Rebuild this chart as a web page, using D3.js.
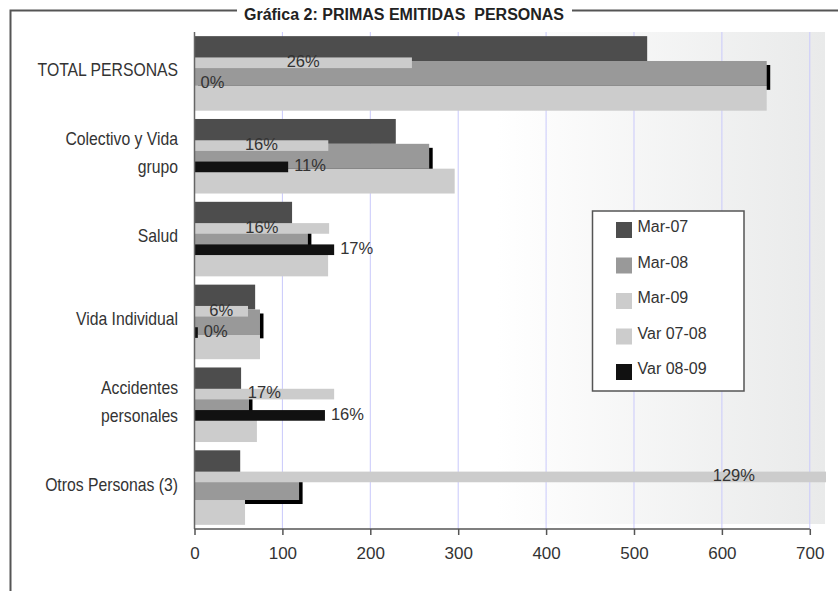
<!DOCTYPE html>
<html>
<head>
<meta charset="utf-8">
<script src="https://cdnjs.cloudflare.com/ajax/libs/d3/7.8.5/d3.min.js"></script>
<style>
  body { margin: 0; background: #fff; }
  text { fill: #333; }
</style>
</head>
<body>
<div id="chart"></div>
<script>

// DATA
var categories = [ "TOTAL PERSONAS", "Colectivo y Vida|grupo", "Salud", "Vida Individual", "Accidentes|personales", "Otros Personas (3)" ];
var mar07     = [ 515, 229, 111, 69, 53, 52 ];
var mar08     = [ 651, 267, 129, 74.5, 62, 119 ];
var mar09     = [ 651, 296, 152, 74.5, 71, 57.5 ];
var var0708   = [ 0.26, 0.160, 0.161, 0.064, 0.167, 1.29 ];
var var0809   = [ 0.0, 0.112, 0.167, 0.004, 0.156, -0.52 ];
var xTicks    = [ 0, 100, 200, 300, 400, 500, 600, 700 ];
var legendNames  = [ "Mar-07", "Mar-08", "Mar-09", "Var 07-08", "Var 08-09" ];
var legendColors = [ "#4d4d4d", "#999999", "#cccccc", "#cccccc", "#111111" ];

var width = 838, height = 591;
var plot = { left: 194.5, right: 825, top: 32, bottom: 529, bgBottom: 524 };
var numFont = "'Liberation Sans', Arial, sans-serif";

var svg = d3.select("#chart").append("svg")
  .attr("width", width)
  .attr("height", height);

// scales
var x = d3.scaleLinear().domain([0, 717.3]).range([plot.left, plot.right]);
var xPct = d3.scaleLinear().domain([0, 0.754]).range([plot.left, plot.right]);
var y = d3.scaleBand().domain(categories).range([plot.top, plot.bottom])
  .paddingInner(0.1).paddingOuter(0.05);
var ySub = d3.scaleBand().domain([0, 1, 2]).range([0, y.bandwidth()]);
var ySlot = d3.scaleBand().domain(d3.range(7)).range([0, y.bandwidth()]);

// background gradient
var defs = svg.append("defs");
var grad = defs.append("linearGradient").attr("id", "bgGrad")
  .attr("x1", "0%").attr("x2", "100%").attr("y1", "0%").attr("y2", "0%");
grad.append("stop").attr("offset", "0%").attr("stop-color", "#ffffff");
grad.append("stop").attr("offset", "48%").attr("stop-color", "#ffffff");
grad.append("stop").attr("offset", "100%").attr("stop-color", "#e9eaea");

defs.append("clipPath").attr("id", "plotClip")
  .append("rect")
  .attr("x", plot.left).attr("y", plot.top)
  .attr("width", plot.right - plot.left + 1)
  .attr("height", plot.bottom - plot.top);

svg.append("rect")
  .attr("x", plot.left).attr("y", plot.top)
  .attr("width", plot.right - plot.left)
  .attr("height", plot.bgBottom - plot.top)
  .attr("fill", "url(#bgGrad)");

// gridlines
svg.append("g").selectAll("line")
  .data(xTicks.slice(1))
  .enter().append("line")
  .attr("x1", function(d) { return x(d); })
  .attr("x2", function(d) { return x(d); })
  .attr("y1", plot.top)
  .attr("y2", plot.bottom)
  .attr("stroke", "#c9c9fb")
  .attr("stroke-width", 1);

var bars = svg.append("g").attr("clip-path", "url(#plotClip)");

function drawBars(values, sub, color, dx, dy) {
  bars.append("g").selectAll("rect")
    .data(values)
    .enter().append("rect")
    .attr("x", x(0) + dx)
    .attr("y", function(d, i) { return y(categories[i]) + ySub(sub) + dy; })
    .attr("width", function(d) { return x(d) - x(0); })
    .attr("height", ySub.bandwidth())
    .attr("fill", color);
}

drawBars(mar07, 0, "#4d4d4d", 0, 0);
drawBars(mar08, 1, "#000000", 3.5, 4);   // shadow
drawBars(mar08, 1, "#999999", 0, 0);
drawBars(mar09, 2, "#cccccc", 0, 0);

// variation bars (secondary axis)
function drawVar(values, slot, color) {
  bars.append("g").selectAll("rect")
    .data(values)
    .enter().append("rect")
    .attr("x", function(d) { return Math.min(xPct(0), xPct(d)); })
    .attr("y", function(d, i) { return y(categories[i]) + ySlot(slot); })
    .attr("width", function(d) { return Math.abs(xPct(d) - xPct(0)); })
    .attr("height", ySlot.bandwidth())
    .attr("fill", color);
}
drawVar(var0708, 2, "#cccccc");
drawVar(var0809, 4, "#111111");

var pctFmt = d3.format(".0%");

// labels var 07-08 (centered on bar)
svg.append("g").selectAll("text")
  .data(var0708)
  .enter().append("text")
  .attr("x", function(d) { return (xPct(0) + xPct(d)) / 2; })
  .attr("y", function(d, i) { return y(categories[i]) + ySlot(2) + ySlot.bandwidth() - 1; })
  .attr("text-anchor", "middle")
  .style("font-family", numFont)
  .style("font-size", "16.5px")
  .text(function(d) { return pctFmt(d); });

// labels var 08-09 (outside end, negatives hidden)
svg.append("g").selectAll("text")
  .data(var0809)
  .enter().append("text")
  .filter(function(d) { return d >= 0; })
  .attr("x", function(d) { return xPct(d) + 6; })
  .attr("y", function(d) { return y(categories[var0809.indexOf(d)]) + ySlot(4) + ySlot.bandwidth() - 1; })
  .style("font-family", numFont)
  .style("font-size", "16.5px")
  .text(function(d) { return pctFmt(d); });

// category axis
svg.append("line")
  .attr("x1", plot.left).attr("x2", plot.left)
  .attr("y1", plot.top).attr("y2", plot.bottom)
  .attr("stroke", "#666").attr("stroke-width", 1.5);

// category labels: tall narrow look
var catLabels = svg.append("g").selectAll("text")
  .data(categories)
  .enter().append("text")
  .attr("text-anchor", "end")
  .attr("transform", "translate(178,0) scale(0.9,1)")
  .style("font-family", numFont)
  .style("font-size", "17.5px");

catLabels.each(function(d) {
  var lines = d.split("|");
  var cy = y(d) + y.bandwidth() / 2;
  var t = d3.select(this);
  lines.forEach(function(l, i) {
    t.append("tspan")
      .attr("x", 0)
      .attr("y", cy + 3 - (lines.length - 1) * 14 + i * 28)
      .text(l);
  });
});

// value axis
var xAxis = svg.append("g")
  .attr("transform", "translate(0," + plot.bottom + ")")
  .call(d3.axisBottom(x).tickValues(xTicks).tickSize(6).tickPadding(12));
xAxis.select(".domain").remove();
xAxis.selectAll(".tick line").attr("stroke", "#555").attr("stroke-width", 1.5);
xAxis.selectAll(".tick text")
  .style("font-family", numFont)
  .style("font-size", "17px")
  .attr("fill", "#333");
xAxis.append("line")
  .attr("x1", x(0)).attr("x2", x(700))
  .attr("stroke", "#555").attr("stroke-width", 1.5);

// legend
var legend = svg.append("g").attr("transform", "translate(592.5,211)");
legend.append("rect")
  .attr("width", 151.5).attr("height", 180)
  .attr("fill", "#fff")
  .attr("stroke", "#555")
  .attr("stroke-width", 1.5);
var item = legend.selectAll(".item")
  .data(legendNames)
  .enter().append("g")
  .attr("transform", function(d, i) { return "translate(0," + (11 + i * 35.5) + ")"; });
item.append("rect")
  .attr("x", 23.5).attr("width", 16).attr("height", 16)
  .attr("fill", function(d, i) { return legendColors[i]; });
item.append("text")
  .attr("x", 45)
  .attr("y", 10)
  .style("font-family", numFont)
  .style("font-size", "16px")
  .text(function(d) { return d; });

// frame and title
svg.append("path")
  .attr("d", "M10.5,591V10.5H237 M572,10.5H838")
  .attr("fill", "none")
  .attr("stroke", "#555")
  .attr("stroke-width", 2);

svg.append("text")
  .attr("x", 404)
  .attr("y", 20)
  .attr("text-anchor", "middle")
  .attr("xml:space", "preserve")
  .style("font-family", numFont)
  .style("font-weight", "bold")
  .style("font-size", "16px")
  .style("fill", "#222")
  .text("Gráfica 2: PRIMAS EMITIDAS  PERSONAS");

</script>
</body>
</html>
